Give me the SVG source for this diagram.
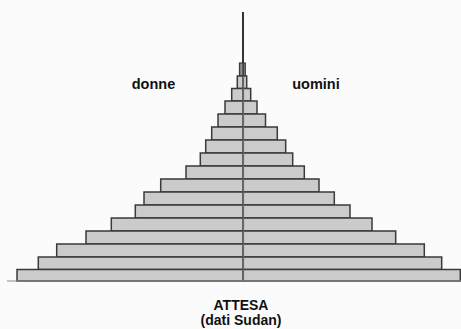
<svg xmlns="http://www.w3.org/2000/svg" width="461" height="329" viewBox="0 0 461 329">
  <style>
    .bar { fill: #cbcbcb; stroke: #3a3a3a; stroke-width: 1.5; }
    .thin { fill: #8a8a8a; stroke: #3a3a3a; stroke-width: 1.2; }
    .lbl { font-family: "Liberation Sans", Arial, sans-serif; font-weight: bold; fill: #111; }
  </style>
  <rect x="0" y="0" width="461" height="329" fill="#fbfbfb"/>

  <g id="axis">
    <line x1="243" y1="12" x2="243" y2="64" stroke="#333" stroke-width="2"/>
  </g>

  <g id="donne">
    <rect class="thin" x="239.5" y="63" width="3.8" height="13"/>
    <rect class="bar" x="237.3" y="76" width="6" height="12.5"/>
    <rect class="bar" x="231.7" y="88.5" width="11.6" height="12.5"/>
    <rect class="bar" x="225" y="101" width="18.3" height="13"/>
    <rect class="bar" x="218" y="114" width="25.3" height="13"/>
    <rect class="bar" x="211.7" y="127" width="31.6" height="13"/>
    <rect class="bar" x="205.7" y="140" width="37.6" height="13"/>
    <rect class="bar" x="200.3" y="153" width="43" height="13"/>
    <rect class="bar" x="186" y="166" width="57.3" height="13"/>
    <rect class="bar" x="160.7" y="179" width="82.6" height="13"/>
    <rect class="bar" x="144" y="192" width="99.3" height="13"/>
    <rect class="bar" x="135.3" y="205" width="108" height="13"/>
    <rect class="bar" x="111.3" y="218" width="132" height="13"/>
    <rect class="bar" x="86" y="231" width="157.3" height="13"/>
    <rect class="bar" x="56.7" y="244" width="186.6" height="13"/>
    <rect class="bar" x="38.3" y="257" width="205" height="12.5"/>
    <rect class="bar" x="17" y="269.5" width="226.3" height="11.5"/>
  </g>

  <g id="uomini">
    <rect class="thin" x="243.3" y="63" width="2" height="13"/>
    <rect class="bar" x="243.3" y="76" width="3.4" height="12.5"/>
    <rect class="bar" x="243.3" y="88.5" width="7.4" height="12.5"/>
    <rect class="bar" x="243.3" y="101" width="13.7" height="13"/>
    <rect class="bar" x="243.3" y="114" width="22.2" height="13"/>
    <rect class="bar" x="243.3" y="127" width="34" height="13"/>
    <rect class="bar" x="243.3" y="140" width="42.4" height="13"/>
    <rect class="bar" x="243.3" y="153" width="49.4" height="13"/>
    <rect class="bar" x="243.3" y="166" width="61" height="13"/>
    <rect class="bar" x="243.3" y="179" width="75.7" height="13"/>
    <rect class="bar" x="243.3" y="192" width="91" height="13"/>
    <rect class="bar" x="243.3" y="205" width="106.7" height="13"/>
    <rect class="bar" x="243.3" y="218" width="128.7" height="13"/>
    <rect class="bar" x="243.3" y="231" width="152.4" height="13"/>
    <rect class="bar" x="243.3" y="244" width="181" height="13"/>
    <rect class="bar" x="243.3" y="257" width="198.4" height="12.5"/>
    <rect class="bar" x="243.3" y="269.5" width="217" height="11.5"/>
  </g>

  <g id="connectors">
    <line x1="243.3" y1="76" x2="243.3" y2="281" stroke="#6a6a6a" stroke-width="1.2"/>
    <line x1="7" y1="281" x2="461" y2="281" stroke="#8a8a8a" stroke-width="1"/>
  </g>

  <g id="labels">
    <text class="lbl" x="153.5" y="89" font-size="14.5" text-anchor="middle">donne</text>
    <text class="lbl" x="316" y="89" font-size="14.5" text-anchor="middle">uomini</text>
    <text class="lbl" x="241" y="310" font-size="14" text-anchor="middle">ATTESA</text>
    <text class="lbl" x="241" y="325" font-size="14" text-anchor="middle">(dati Sudan)</text>
  </g>
</svg>
